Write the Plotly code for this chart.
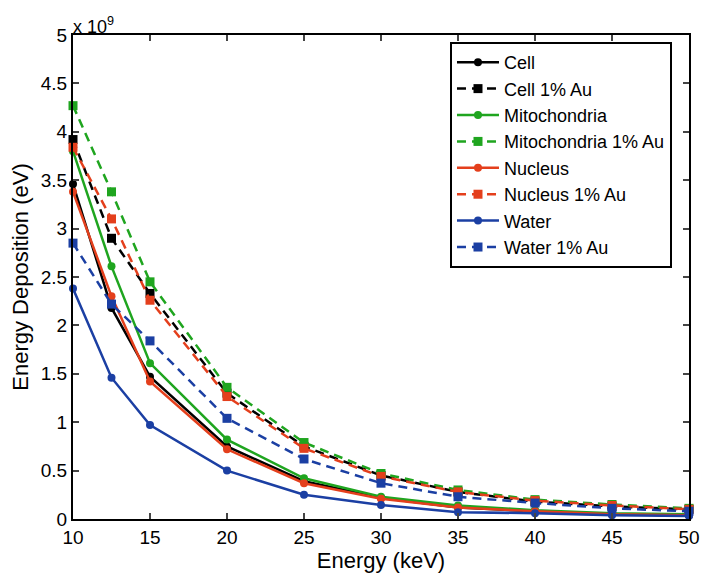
import plotly.graph_objects as go

energy = [10, 12.5, 15, 20, 25, 30, 35, 40, 45, 50]

cell = [3.46, 2.18, 1.47, 0.75, 0.39, 0.22, 0.12, 0.08, 0.05, 0.04]
cell_au = [3.92, 2.90, 2.33, 1.30, 0.75, 0.45, 0.28, 0.18, 0.13, 0.10]
mito = [3.80, 2.61, 1.61, 0.82, 0.42, 0.23, 0.14, 0.09, 0.06, 0.05]
mito_au = [4.27, 3.38, 2.45, 1.36, 0.79, 0.47, 0.30, 0.20, 0.15, 0.11]
nucleus = [3.38, 2.30, 1.42, 0.72, 0.37, 0.21, 0.12, 0.08, 0.05, 0.04]
nucleus_au = [3.84, 3.10, 2.26, 1.265, 0.73, 0.44, 0.28, 0.19, 0.14, 0.10]
water = [2.38, 1.46, 0.97, 0.50, 0.25, 0.145, 0.07, 0.06, 0.04, 0.03]
water_au = [2.85, 2.22, 1.84, 1.04, 0.62, 0.37, 0.23, 0.165, 0.11, 0.08]

series = [
    ("Cell", cell, "#000000", "solid", "circle"),
    ("Cell 1% Au", cell_au, "#000000", "dash", "square"),
    ("Mitochondria", mito, "#1fa51f", "solid", "circle"),
    ("Mitochondria 1% Au", mito_au, "#1fa51f", "dash", "square"),
    ("Nucleus", nucleus, "#e43f1c", "solid", "circle"),
    ("Nucleus 1% Au", nucleus_au, "#e43f1c", "dash", "square"),
    ("Water", water, "#1b3fa3", "solid", "circle"),
    ("Water 1% Au", water_au, "#1b3fa3", "dash", "square"),
]

ytick_vals = [0, 0.5, 1, 1.5, 2, 2.5, 3, 3.5, 4, 4.5, 5]
ytick_text = ["0", "0.5", "1", "1.5", "2", "2.5", "3", "3.5", "4", "4.5", "5"]
xtick_vals = [10, 15, 20, 25, 30, 35, 40, 45, 50]

fig = go.Figure()
for name, vals, color, dash, sym in series:
    fig.add_trace(go.Scatter(
        x=energy, y=vals, name=name, mode="lines+markers",
        line=dict(color=color, width=2.5, dash="9px,6px" if dash == "dash" else "solid"),
        marker=dict(symbol=sym, size=8 if sym == "circle" else 9, color=color),
        cliponaxis=False,
    ))

font = "Liberation Sans, Arial, sans-serif"
fig.update_layout(
    width=701, height=574,
    margin=dict(l=73, r=12, t=35, b=55, autoexpand=False),
    paper_bgcolor="white", plot_bgcolor="white",
    font=dict(family=font, size=19, color="black"),
    showlegend=True,
    legend=dict(
        x=0.612, y=0.9855, xanchor="left", yanchor="top",
        bordercolor="black", borderwidth=2, bgcolor="white",
        font=dict(size=18), tracegroupgap=0, itemwidth=42,
    ),
    xaxis=dict(
        range=[10, 50], tickvals=xtick_vals, ticks="inside", ticklen=6,
        tickwidth=2, showline=True, linewidth=2, linecolor="black",
        mirror="ticks", showgrid=False, zeroline=False, automargin=False,
        title=dict(text="Energy (keV)", font=dict(size=22), standoff=2),
        tickfont=dict(size=19),
    ),
    yaxis=dict(
        range=[0, 5], tickvals=ytick_vals, ticktext=ytick_text, ticks="inside",
        ticklen=6, tickwidth=2, showline=True, linewidth=2, linecolor="black",
        mirror="ticks", showgrid=False, zeroline=False, automargin=False,
        title=dict(text="Energy Deposition (eV)", font=dict(size=22), standoff=6),
        tickfont=dict(size=19),
    ),
    annotations=[dict(
        text="x 10<sup>9</sup>", xref="paper", yref="paper", x=0.0, y=1.0,
        xanchor="left", yanchor="bottom", showarrow=False,
        font=dict(size=18), xshift=-2, yshift=-4,
    )],
)

fig.write_html(
    "out.html",
    config={"displayModeBar": False},
    post_script="document.body.style.margin='0';document.body.style.overflow='hidden';",
)
